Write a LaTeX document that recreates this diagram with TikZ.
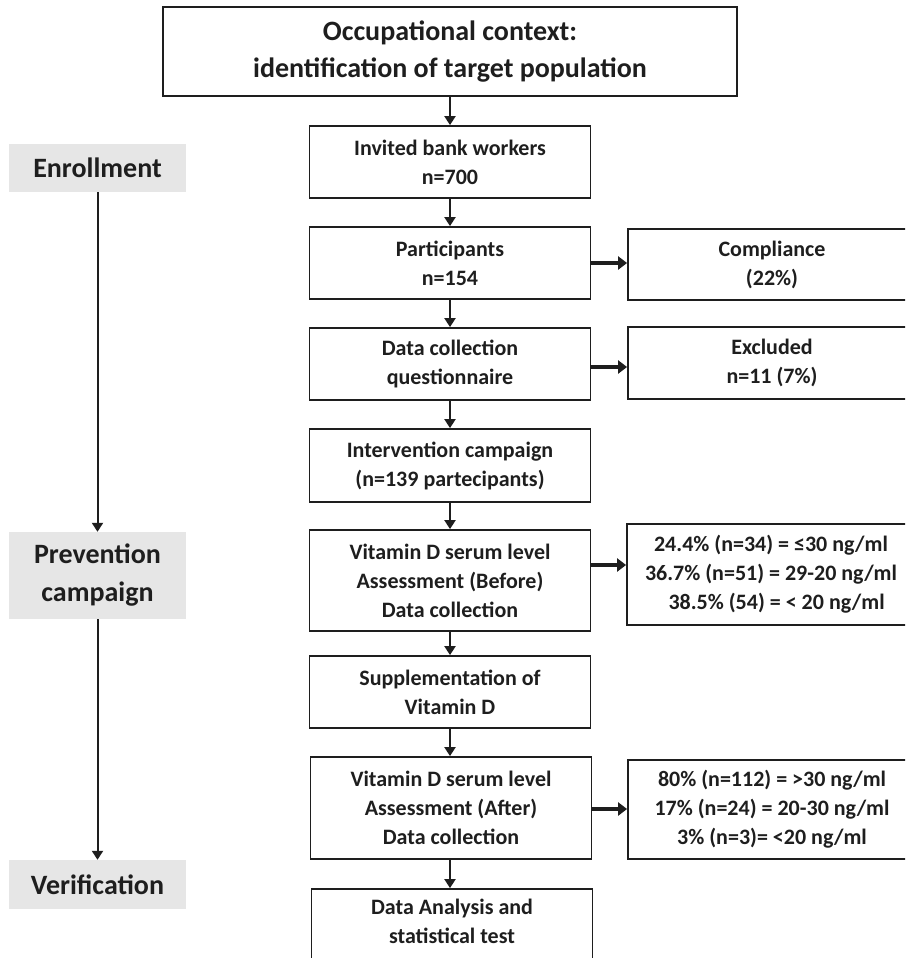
\documentclass[tikz,border=0pt]{standalone}
\usepackage{fontspec}
\setmainfont{Carlito}
\usetikzlibrary{arrows.meta}
\definecolor{ink}{HTML}{1E1E1E}
\definecolor{lab}{HTML}{E6E6E6}
\begin{document}
\begin{tikzpicture}[x=1pt,y=-1pt,
  box/.style={draw=ink, line width=1.8pt, fill=white, text=ink, align=center,
    font=\bfseries\fontsize{22}{29}\selectfont, minimum width=281pt, minimum height=72pt, inner sep=0pt},
  rbox/.style={box, minimum width=288pt},
  phase/.style={fill=lab, text=ink, align=center, font=\bfseries\fontsize{28}{38}\selectfont,
    minimum width=177pt, inner sep=0pt},
  varr/.style={draw=ink, line width=2pt, -{Triangle[length=9pt,width=11pt]}},
  harr/.style={draw=ink, line width=4pt, -{Triangle[length=9pt,width=13pt]}},
  larr/.style={draw=ink, line width=2pt, -{Triangle[length=9pt,width=11pt]}}]
\useasboundingbox (0,0) rectangle (905,958);
\clip (0,0) rectangle (905,958);
\fill[white] (0,0) rectangle (905,958);
% main column
\node[box, minimum width=574pt, minimum height=89pt, font=\bfseries\fontsize{28}{37}\selectfont] (top) at (450,51.5) {Occupational context:\\identification of target population};
\node[box] (inv) at (450,162) {Invited bank workers\\n=700};
\node[box] (par) at (450,263) {Participants\\n=154};
\node[box] (dc) at (450,364) {Data collection\\questionnaire};
\node[box, minimum height=73pt] (int) at (450,465.5) {Intervention campaign\\(n=139 partecipants)};
\node[box, minimum height=101pt] (vb) at (450,580.5) {Vitamin D serum level\\Assessment (Before)\\Data collection};
\node[box] (sup) at (450,692) {Supplementation of\\Vitamin D};
\node[box, minimum height=102pt] (va) at (451,808) {Vitamin D serum level\\Assessment (After)\\Data collection};
\node[box, minimum height=72pt, text height=46pt, text depth=10pt] (da) at (452,925) {Data Analysis and\\statistical test};
% right column
\node[rbox, minimum height=71pt] (comp) at (772,264.5) {Compliance\\(22\%)};
\node[rbox] (exc) at (772,363) {Excluded\\n=11 (7\%)};
\node[rbox, minimum height=101pt] (rb) at (771,574.5) {24.4\% (n=34) = ≤30 ng/ml\\36.7\% (n=51) = 29-20 ng/ml\\\phantom{3}38.5\% (54) = < 20 ng/ml};
\node[rbox, minimum height=99pt] (ra) at (772,809.5) {80\% (n=112) = >30 ng/ml\\17\% (n=24) = 20-30 ng/ml\\3\% (n=3)= <20 ng/ml};
% phase labels
\node[phase, minimum height=48pt] (enr) at (97.5,168) {Enrollment};
\node[phase, minimum height=87pt] (prev) at (97.5,575.5) {Prevention\\campaign};
\node[phase, minimum height=49pt] (ver) at (97.5,884.5) {Verification};
% connectors
\draw[varr] (top.south) -- (inv.north);
\draw[varr] (inv.south) -- (par.north);
\draw[varr] (par.south) -- (dc.north);
\draw[varr] (dc.south) -- (int.north);
\draw[varr] (int.south) -- (vb.north);
\draw[varr] (vb.south) -- (sup.north);
\draw[varr] (sup.south) -- (va.north -| sup.south);
\draw[varr] (va.south -| sup.south) -- (da.north -| sup.south);
\draw[harr] (par.east) -- (comp.west |- par.east);
\draw[harr] (dc.east |- 0,367) -- (exc.west |- 0,367);
\draw[harr] (vb.east |- 0,565) -- (rb.west |- 0,565);
\draw[harr] (va.east |- 0,809) -- (ra.west |- 0,809);
\draw[larr] (enr.south) -- (prev.north);
\draw[larr] (prev.south) -- (ver.north);
\end{tikzpicture}
\end{document}
